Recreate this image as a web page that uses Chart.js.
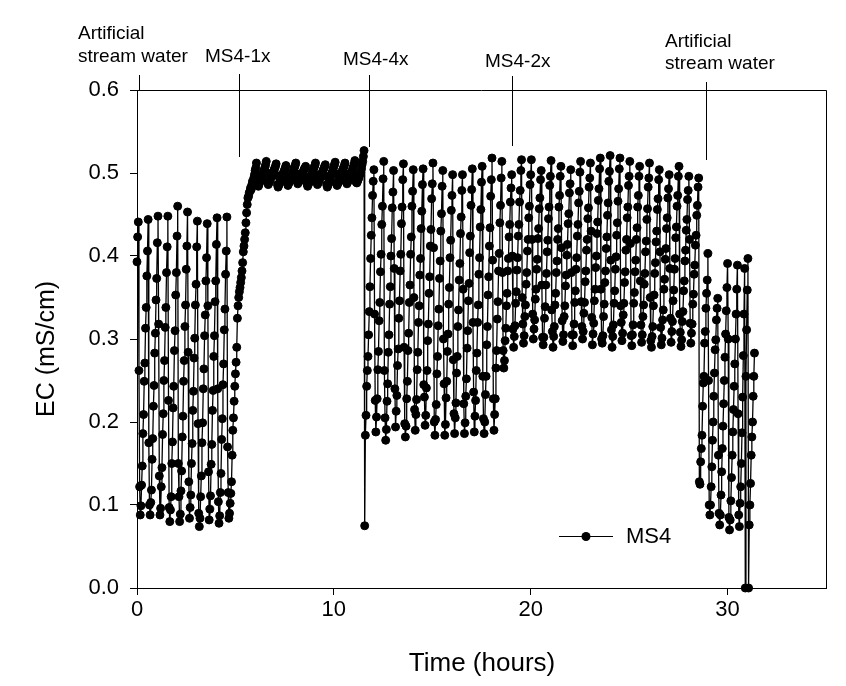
<!DOCTYPE html>
<html>
<head>
<meta charset="utf-8">
<script src="https://cdn.jsdelivr.net/npm/chart.js@4.4.1/dist/chart.umd.min.js"></script>
<style>
  html, body { margin: 0; padding: 0; background: #fff; }
  canvas { display: block; }
</style>
</head>
<body>
<canvas id="grafico" width="846" height="686"></canvas>
<script>
// logger interval, minutes between readings
const sampleMinutes = 2;

// EC readings in uS/cm (divided by 1000 -> mS/cm), in time order
const ecArtificialA = [
  393, 423, 441,
  262, 122, 88, 99, 124, 147, 186, 209, 249, 271, 313, 338, 376, 406, 444,
  175, 100, 88, 103, 118, 155, 180, 219, 244, 283, 307, 347, 373, 416, 448,
  318, 135, 88, 96, 122, 145, 185, 210, 250, 274, 314, 338, 380, 411, 448,
  226, 97, 80, 94, 110, 150, 176, 217, 243, 286, 310, 353, 380, 424, 460,
  150, 110, 80, 89, 117, 141, 182, 207, 249, 274, 315, 341, 384, 412, 453,
  284, 128, 84, 97, 112, 150, 174, 214, 237, 277, 301, 341, 366, 411, 442,
  198, 90, 74, 84, 110, 135, 175, 199, 240, 264, 304, 329, 370, 398, 439,
  340, 140, 82, 95, 111, 149, 173, 214, 238, 279, 304, 345, 370, 414, 446,
  240, 104, 78, 87, 115, 138, 179, 204, 245, 270, 311, 336, 378, 406, 447,
  170, 115, 84
];

const ecMs4x1 = [
  90, 102, 114, 128, 160, 190, 205, 225, 243, 258, 272, 290, 325, 340, 350, 357, 362, 368, 374, 382,
  392, 405, 412, 420, 428, 440, 452, 462, 470, 472, 476, 478, 482, 480, 486, 490, 488, 494, 498, 503,
  506, 512,
  498, 487, 484, 486, 489, 491, 493, 495, 497, 499, 502, 504, 507, 510, 514,
  500, 489, 486, 488, 490, 492, 494, 496, 498, 500, 502, 504, 506, 508, 511,
  497, 486, 483, 485, 487, 490, 492, 494, 496, 498, 500, 502, 504, 506, 509,
  496, 488, 485, 487, 489, 491, 494, 496, 498, 500, 502, 505, 507, 509, 512,
  499, 490, 487, 489, 490, 492, 494, 496, 498, 500, 501, 503, 505, 506, 508,
  495, 487, 484, 486, 488, 490, 493, 495, 497, 500, 502, 505, 507, 509, 512,
  498, 489, 486, 488, 490, 492, 494, 496, 498, 500, 502, 504, 506, 508, 510,
  496, 486, 483, 485, 487, 490, 492, 495, 497, 500, 502, 505, 508, 510, 513,
  499, 488, 485, 487, 489, 491, 493, 496, 498, 500, 503, 505, 507, 509, 512,
  499, 489, 487, 489, 491, 493, 495, 497, 499, 501, 503, 506, 508, 511, 515,
  498, 489, 488, 490, 492, 494, 497, 499, 501, 505, 510, 514, 520, 527
];

const ecMs4x4 = [
  75,
  184, 208, 243, 262, 279, 305, 333, 363, 397, 425, 446, 473, 490, 504,
  330, 226, 188, 206, 228, 263, 285, 322, 344, 381, 402, 438, 460, 493, 514,
  262, 205, 178, 191, 225, 246, 284, 305, 342, 363, 400, 421, 458, 477, 503,
  385, 240, 194, 213, 232, 268, 288, 325, 346, 382, 402, 439, 459, 492, 511,
  290, 198, 182, 195, 228, 249, 286, 307, 344, 365, 402, 423, 460, 478, 504,
  350, 215, 190, 209, 227, 263, 284, 320, 340, 377, 397, 433, 454, 486, 505,
  245, 230, 196, 208, 241, 262, 298, 318, 355, 375, 412, 432, 469, 487, 512,
  410, 200, 184, 203, 221, 258, 279, 316, 336, 373, 394, 430, 451, 484, 503,
  300, 246, 184, 197, 229, 249, 285, 306, 342, 362, 398, 419, 455, 473, 498,
  275, 210, 186, 205, 223, 259, 279, 315, 335, 371, 391, 427, 447, 479, 498,
  360, 222, 186, 199, 231, 252, 289, 310, 346, 367, 404, 424, 461, 480, 505,
  320, 236, 188, 207, 226, 262, 283, 320, 341, 378, 398, 435, 456, 489, 508,
  255, 204, 186, 200, 233, 255, 293, 315, 353, 375, 412, 434, 472, 492, 518,
  395, 228, 190, 209, 228, 265, 286, 324, 345, 382, 403, 440, 461, 494, 514,
  380, 286, 265, 274, 298, 313, 340, 355, 382, 397, 423, 438, 465, 482
];

const ecMs4x2 = [
  498,
  400, 312, 290, 303, 316, 343, 357, 383, 398, 424, 438, 465, 479, 503, 516,
  350, 318, 295, 304, 327, 341, 366, 380, 406, 420, 446, 460, 486, 498, 516,
  420, 330, 300, 312, 323, 348, 360, 384, 396, 421, 433, 457, 470, 492, 503,
  365, 302, 293, 302, 325, 339, 365, 379, 405, 419, 445, 459, 485, 496, 515,
  335, 309, 290, 303, 315, 341, 355, 380, 394, 420, 433, 459, 473, 496, 508,
  410, 322, 297, 305, 327, 340, 364, 377, 401, 414, 439, 451, 476, 487, 504,
  380, 305, 292, 305, 318, 344, 358, 384, 398, 424, 438, 464, 478, 501, 514,
  345, 315, 300, 309, 331, 344, 369, 382, 407, 420, 445, 458, 483, 494, 512,
  430, 326, 293, 306, 319, 346, 360, 386, 400, 427, 441, 467, 481, 505, 518,
  360, 300, 295, 304, 327, 342, 368, 382, 409, 423, 449, 464, 490, 502, 521,
  395, 311, 290, 303, 317, 343, 358, 384, 399, 425, 440, 466, 481, 505, 518,
  340, 320, 298, 307, 329, 343, 368, 381, 407, 420, 446, 459, 485, 496, 514,
  415, 304, 292, 305, 317, 343, 356, 381, 395, 420, 434, 459, 473, 496, 508,
  370, 317, 296, 305, 327, 341, 366, 379, 405, 418, 444, 457, 483, 494, 512,
  350, 298, 290, 303, 315, 340, 353, 379, 392, 417, 430, 456, 469, 492, 504,
  405, 314, 293, 301, 323, 335, 360, 372, 396, 409, 433, 446, 470, 481, 498,
  385, 325, 296, 309, 321, 346, 359, 384, 397, 422, 435, 460, 473, 496, 508,
  330, 308, 291, 299, 321, 333, 358, 370, 394, 407, 431, 444, 468, 479, 496,
  420, 319, 295, 307, 318, 342, 354, 378, 389, 413, 425, 449, 461, 483, 494
];

const ecArtificialB = [
  128, 125, 152, 168, 184, 219, 247, 255, 295, 309, 337, 355, 371, 403,
  250, 100, 88, 100, 122, 146, 178, 200, 231, 259, 287, 299, 323, 337, 349,
  160, 90, 76, 88, 112, 140, 168, 195, 222, 250, 278, 306, 334, 362, 391,
  300, 85, 70, 82, 105, 133, 160, 188, 215, 243, 270, 300, 330, 360, 389,
  210, 88, 74, 102, 122, 150, 187, 230, 280, 330, 385, 0, 255, 311, 359, 397, 0,
  76, 100, 126, 160, 182, 200, 231, 255, 283
];

// treatment changes (hours) and their labels
const eventHours = [0.09, 5.17, 11.8, 19.03, 28.88];
const eventLabels = [
  ['Artificial', 'stream water'],
  ['MS4-1x'],
  ['MS4-4x'],
  ['MS4-2x'],
  ['Artificial', 'stream water']
];

const xTicks = [0, 10, 20, 30];
const yTicks = [0, 0.1, 0.2, 0.3, 0.4, 0.5, 0.6];

const leituras = [].concat(ecArtificialA, ecMs4x1, ecMs4x4, ecMs4x2, ecArtificialB);
const pontos = leituras.map((v, i) => ({ x: i * sampleMinutes / 60, y: v / 1000 }));

const fonte = '"Liberation Sans", Arial, sans-serif';

// marker lines / labels placement (pixels)
const eventLayout = [
  { top: 75, bottom: 91, textX: 78, baselines: [39, 62] },
  { top: 74, bottom: 157, textX: 205, baselines: [62] },
  { top: 75, bottom: 147, textX: 343, baselines: [65] },
  { top: 76, bottom: 146, textX: 485, baselines: [67] },
  { top: 82, bottom: 160, textX: 665, baselines: [47, 69] }
];

const extras = {
  id: 'extras',
  afterDraw(chart) {
    const ctx = chart.ctx;
    const a = chart.chartArea;
    const x = chart.scales.x;
    ctx.save();
    ctx.strokeStyle = '#000';
    ctx.lineWidth = 1;

    // top and right side of the frame
    ctx.beginPath();
    ctx.moveTo(a.left, a.top + 0.5);
    ctx.lineTo(a.right + 0.5, a.top + 0.5);
    ctx.lineTo(a.right + 0.5, a.bottom);
    ctx.stroke();

    // treatment markers
    ctx.fillStyle = '#000';
    ctx.font = '19px ' + fonte;
    ctx.textAlign = 'left';
    ctx.textBaseline = 'alphabetic';
    eventHours.forEach((h, i) => {
      const lay = eventLayout[i];
      const px = Math.round(x.getPixelForValue(h)) + 0.5;
      ctx.beginPath();
      ctx.moveTo(px, lay.top);
      ctx.lineTo(px, lay.bottom);
      ctx.stroke();
      eventLabels[i].forEach((linha, j) => {
        ctx.fillText(linha, lay.textX, lay.baselines[j]);
      });
    });

    // axis titles
    ctx.font = '26px ' + fonte;
    ctx.textAlign = 'center';
    ctx.fillText('Time (hours)', 482, 671);
    ctx.save();
    ctx.translate(54, 349);
    ctx.rotate(-Math.PI / 2);
    ctx.font = '25px ' + fonte;
    ctx.fillText('EC (mS/cm)', 0, 0);
    ctx.restore();

    // legend
    ctx.beginPath();
    ctx.moveTo(559, 536.5);
    ctx.lineTo(613, 536.5);
    ctx.stroke();
    ctx.beginPath();
    ctx.arc(586, 536.5, 4.5, 0, Math.PI * 2);
    ctx.fill();
    ctx.font = '22px ' + fonte;
    ctx.textAlign = 'left';
    ctx.textBaseline = 'middle';
    ctx.fillText('MS4', 626, 537);
    ctx.restore();
  }
};

const ctx = document.getElementById('grafico').getContext('2d');

window.meuGrafico = new Chart(ctx, {
  type: 'line',
  data: {
    datasets: [{
      label: 'MS4',
      data: pontos,
      borderColor: '#000',
      borderWidth: 1.3,
      pointRadius: 4,
      pointBorderWidth: 1,
      pointBackgroundColor: '#000',
      pointBorderColor: '#000',
      tension: 0,
      clip: false
    }]
  },
  options: {
    responsive: false,
    animation: false,
    devicePixelRatio: 1,
    events: [],
    layout: { padding: { top: 90, right: 20, left: 0, bottom: 0 } },
    plugins: {
      legend: { display: false },
      tooltip: { enabled: false }
    },
    scales: {
      x: {
        type: 'linear',
        min: 0,
        max: 35,
        afterBuildTicks: s => { s.ticks = xTicks.map(v => ({ value: v })); },
        afterFit: s => { s.height = 98; },
        ticks: {
          color: '#000',
          font: { family: fonte, size: 22 },
          padding: 2,
          maxRotation: 0,
          callback: v => String(v)
        },
        grid: { drawOnChartArea: false, drawTicks: true, tickLength: 7, color: '#000', lineWidth: 1 },
        border: { color: '#000', width: 1 }
      },
      y: {
        type: 'linear',
        min: 0,
        max: 0.6,
        afterBuildTicks: s => { s.ticks = yTicks.map(v => ({ value: v })); },
        afterFit: s => { s.width = 137; },
        ticks: {
          color: '#000',
          font: { family: fonte, size: 22 },
          padding: 11,
          callback: v => Number(v).toFixed(1)
        },
        grid: { drawOnChartArea: false, drawTicks: true, tickLength: 7, color: '#000', lineWidth: 1 },
        border: { color: '#000', width: 1 }
      }
    }
  },
  plugins: [extras]
});
</script>
</body>
</html>
